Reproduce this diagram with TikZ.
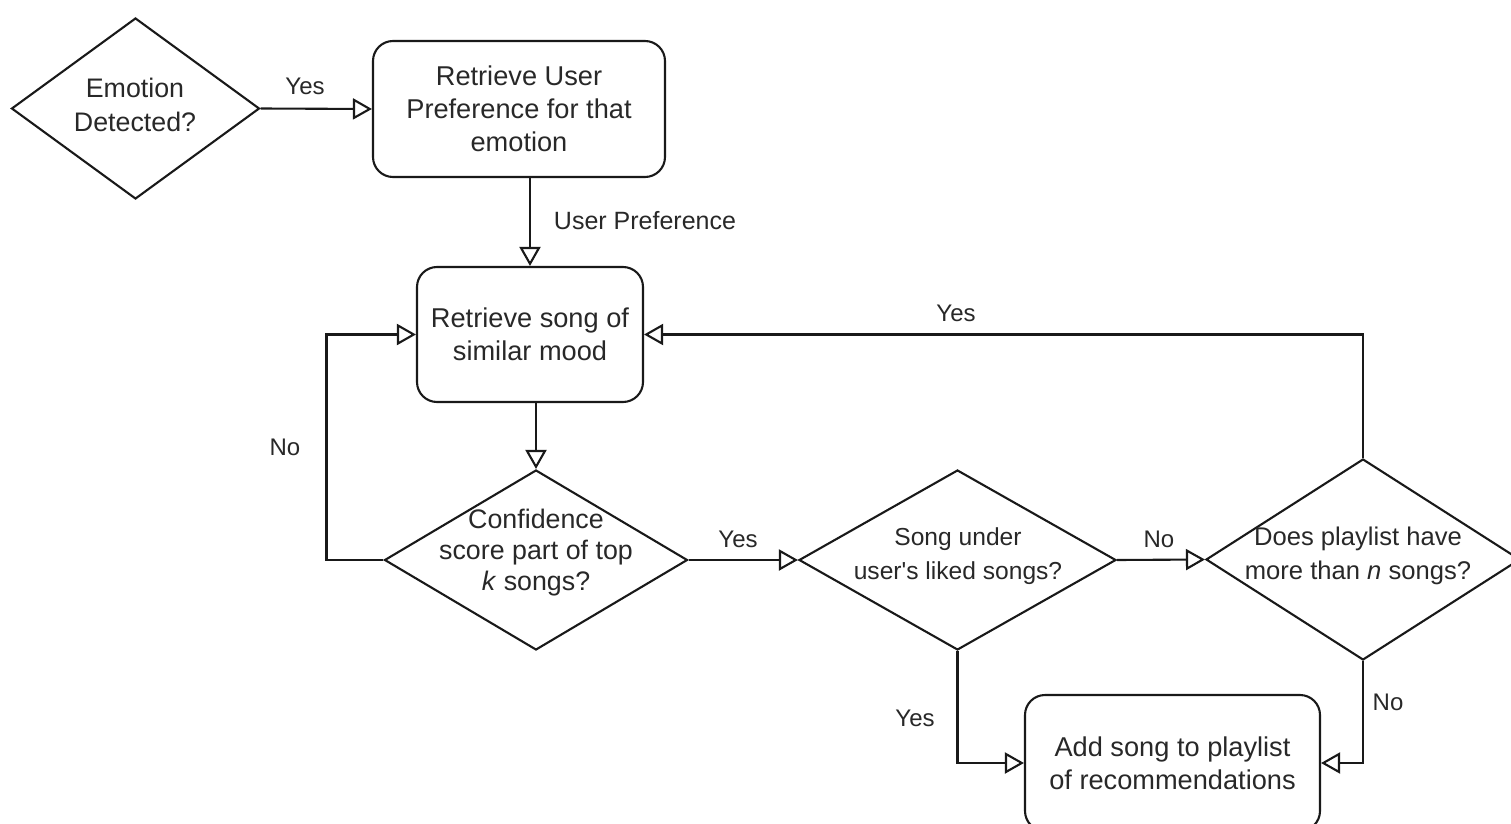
\documentclass[tikz,border=0pt]{standalone}
\usepackage{fontspec}
\setmainfont{Liberation Sans}
\usetikzlibrary{shapes.geometric,arrows.meta}
\definecolor{linec}{RGB}{25,25,25}
\definecolor{textc}{RGB}{40,40,40}
\tikzset{
  base/.style={draw=linec, line width=1.05pt, inner sep=0pt},
  proc/.style={base, rectangle, rounded corners=10pt},
  dec/.style={base, diamond},
  ntext/.style={text=textc, align=center, inner sep=0pt, font=\fontsize{13.6}{16.5}\selectfont},
  dtext/.style={text=textc, align=center, inner sep=0pt, font=\fontsize{12.3}{16.8}\selectfont},
  lbl/.style={text=textc, inner sep=0pt, font=\fontsize{12}{14}\selectfont},
  arr/.style={draw=linec, line width=1.05pt, -{Triangle[open, length=9.5pt, width=10.5pt]}},
}
\begin{document}
\begin{tikzpicture}[x=0.5pt, y=-0.5pt]
\useasboundingbox (0,0) rectangle (1511,824);

% process boxes
\node[proc, minimum width=146pt, minimum height=68pt] (r1) at (519,109) {};
\node[ntext] (r1t) at (r1.center) {Retrieve User\\Preference for that\\emotion};
\node[proc, minimum width=113pt, minimum height=67.5pt] (r2) at (530,334.5) {};
\node[ntext] (r2t) at (r2.center) {Retrieve song of\\similar mood};
\node[proc, minimum width=147.5pt, minimum height=68pt] (r3) at (1172.5,763) {};
\node[ntext] (r3t) at (r3.center) {Add song to playlist\\of recommendations};

% decisions
\node[dec, minimum width=124pt, minimum height=90.5pt] (d1) at (135.5,108.5) {};
\node[dtext, font=\fontsize{13.4}{17}\selectfont] (d1t) at (135,105) {Emotion\\Detected?};
\node[dec, minimum width=151.5pt, minimum height=90pt] (d2) at (536,560) {};
\node[ntext, font=\fontsize{13.4}{15.5}\selectfont] (d2t) at (536,553) {Confidence\\score part of top\\\textit{k} songs?};
\node[dec, minimum width=158.5pt, minimum height=90pt] (d3) at (957.5,560) {};
\node[dtext] (d3t) at (958,556) {Song under\\user\textquotesingle s liked songs?};
\node[dec, minimum width=157pt, minimum height=100.5pt] (d4) at (1363,559.5) {};
\node[dtext, font=\fontsize{12.8}{16.8}\selectfont] (d4t) at (1358,556) {Does playlist have\\more than \textit{n} songs?};

% connectors
\draw[arr] (d1.east) -- (r1.west) node[lbl, at={(305,86)}] (l1) {Yes};
\draw[arr] (r2.north |- r1.south) -- (r2.north) node[lbl, font=\fontsize{12.5}{14}\selectfont, at={(645,221)}] (l2) {User Preference};
\draw[arr] (d2.north |- r2.south) -- (d2.north);
\draw[arr] (d2.west) -- ++(-57,0) |- (r2.west) node[lbl, at={(285,447)}] (l3) {No};
\draw[arr] (d2.east) -- (d3.west) node[lbl, at={(738,539)}] (l4) {Yes};
\draw[arr] (d3.east) -- (d4.west) node[lbl, at={(1159,539)}] (l5) {No};
\draw[arr] (d4.north) |- (r2.east) node[lbl, at={(956,313)}] (l6) {Yes};
\draw[arr] (d3.south) |- (r3.west) node[lbl, at={(915,718)}] (l7) {Yes};
\draw[arr] (d4.south) |- (r3.east) node[lbl, at={(1388,702)}] (l8) {No};
\end{tikzpicture}
\end{document}
